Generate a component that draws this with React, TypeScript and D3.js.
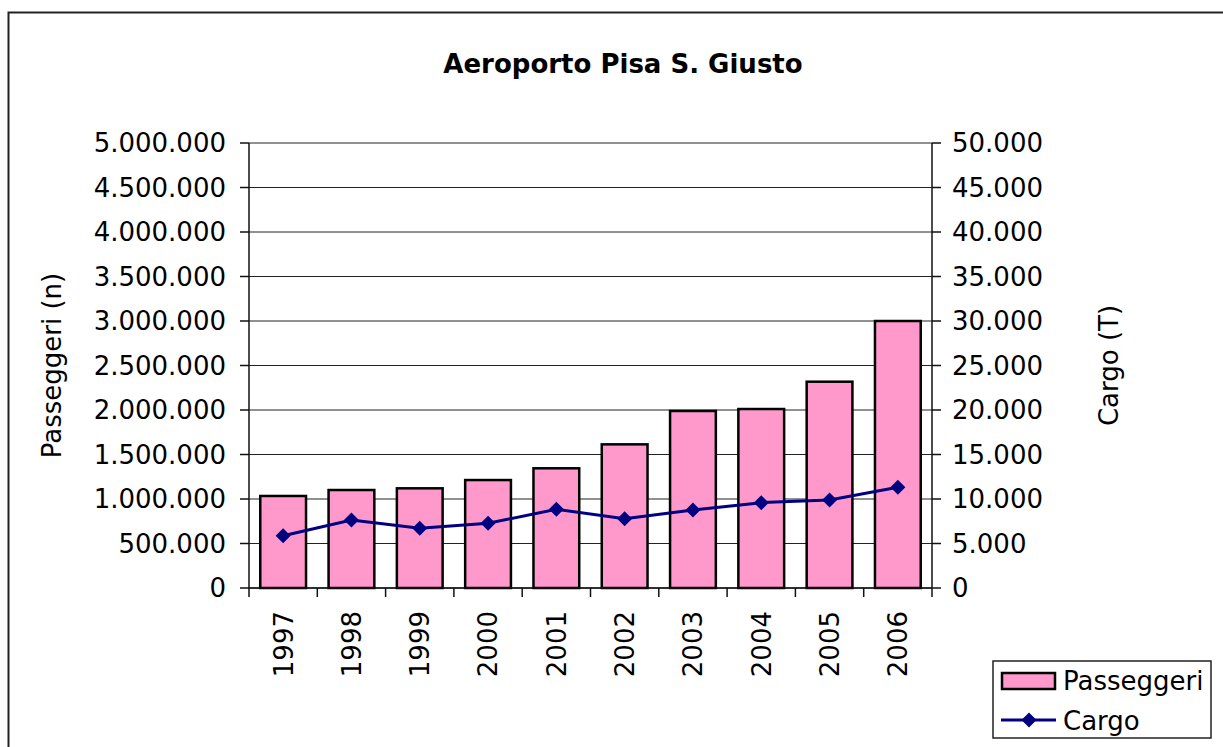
import React from 'react'
import * as d3 from 'd3'

const years = ['1997', '1998', '1999', '2000', '2001', '2002', '2003', '2004', '2005', '2006']
const passeggeri = [1034000, 1101000, 1120000, 1213000, 1345000, 1614000, 1989000, 2011000, 2318000, 3000000]
const cargo = [5880, 7640, 6710, 7270, 8840, 7790, 8760, 9590, 9890, 11310]
const leftTicks = [0, 500000, 1000000, 1500000, 2000000, 2500000, 3000000, 3500000, 4000000, 4500000, 5000000]
const rightTicks = [0, 5000, 10000, 15000, 20000, 25000, 30000, 35000, 40000, 45000, 50000]

const W = 1223
const H = 747
const plot = { left: 249, right: 932, top: 143, bottom: 588 }
const font = '"DejaVu Sans", Verdana, sans-serif'
const pink = '#FF99CC'
const navy = '#000080'

// italian thousands separator
const fmt = d3.formatLocale({ decimal: ',', thousands: '.', grouping: [3], currency: ['€', ''] }).format(',d')

const diamond = (r: number) => `M0,${-r}L${r},0L0,${r}L${-r},0Z`

const App: React.FC = () => {
  const x = d3
    .scaleBand()
    .domain(years)
    .range([plot.left, plot.right])
    .paddingInner(0.33)
    .paddingOuter(0.165)
  const step = x.step()
  const yL = d3.scaleLinear().domain([0, 5000000]).range([plot.bottom, plot.top])
  const yR = d3.scaleLinear().domain([0, 50000]).range([plot.bottom, plot.top])

  const line = d3
    .line<number>()
    .x((d, i) => x(years[i])! + x.bandwidth() / 2)
    .y(d => yR(d))

  return (
    <svg
      width={W}
      height={H}
      style={{ position: 'absolute', left: 0, top: 0, background: '#fff' }}
      fontFamily={font}
    >
      <rect x={8.5} y={12.5} width={W + 20} height={H + 20} fill="#fff" stroke="#222" strokeWidth={2} />

      <text x={623} y={73} textAnchor="middle" fontSize={26} fontWeight="bold">
        Aeroporto Pisa S. Giusto
      </text>

      {/* gridlines */}
      {leftTicks.map(t => (
        <line key={'g' + t} x1={plot.left} x2={plot.right} y1={yL(t)} y2={yL(t)} stroke="#222" strokeWidth={1} />
      ))}

      {/* bars */}
      {passeggeri.map((v, i) => (
        <rect
          key={years[i]}
          x={x(years[i])}
          y={yL(v)}
          width={x.bandwidth()}
          height={yL(0) - yL(v)}
          fill={pink}
          stroke="#000"
          strokeWidth={2.5}
        />
      ))}

      {/* axes */}
      <line x1={plot.left} x2={plot.left} y1={plot.top} y2={plot.bottom} stroke="#111" strokeWidth={1.5} />
      <line x1={plot.right} x2={plot.right} y1={plot.top} y2={plot.bottom} stroke="#111" strokeWidth={1.5} />
      <line x1={plot.left} x2={plot.right} y1={plot.bottom} y2={plot.bottom} stroke="#111" strokeWidth={1.5} />

      {leftTicks.map(t => (
        <g key={'l' + t}>
          <line x1={plot.left - 9} x2={plot.left} y1={yL(t)} y2={yL(t)} stroke="#111" strokeWidth={1.5} />
          <text x={226} y={yL(t)} dy="0.36em" textAnchor="end" fontSize={26}>
            {fmt(t)}
          </text>
        </g>
      ))}
      {rightTicks.map(t => (
        <g key={'r' + t}>
          <line x1={plot.right} x2={plot.right + 9} y1={yR(t)} y2={yR(t)} stroke="#111" strokeWidth={1.5} />
          <text x={952} y={yR(t)} dy="0.36em" textAnchor="start" fontSize={26}>
            {fmt(t)}
          </text>
        </g>
      ))}
      {d3.range(years.length + 1).map(i => (
        <line
          key={'xt' + i}
          x1={plot.left + i * step}
          x2={plot.left + i * step}
          y1={plot.bottom}
          y2={plot.bottom + 9}
          stroke="#111"
          strokeWidth={1.5}
        />
      ))}
      {years.map(yr => {
        const cx = x(yr)! + x.bandwidth() / 2
        return (
          <text
            key={'yl' + yr}
            transform={`translate(${cx},611) rotate(-90)`}
            dy="0.36em"
            textAnchor="end"
            fontSize={26}
          >
            {yr}
          </text>
        )
      })}

      <text transform={`translate(52,${(plot.top + plot.bottom) / 2}) rotate(-90)`} dy="0.36em" textAnchor="middle" fontSize={26}>
        Passeggeri (n)
      </text>
      <text transform={`translate(1109,${(plot.top + plot.bottom) / 2}) rotate(-90)`} dy="0.36em" textAnchor="middle" fontSize={26}>
        Cargo (T)
      </text>

      {/* cargo line */}
      <path d={line(cargo) ?? ''} fill="none" stroke={navy} strokeWidth={3} />
      {cargo.map((v, i) => (
        <path
          key={'m' + i}
          d={diamond(7.5)}
          transform={`translate(${x(years[i])! + x.bandwidth() / 2},${yR(v)})`}
          fill={navy}
        />
      ))}

      {/* legend */}
      <rect x={993} y={661} width={218} height={77} fill="#fff" stroke="#222" strokeWidth={1.5} />
      <rect x={1002} y={673} width={53} height={16} fill={pink} stroke="#000" strokeWidth={2.5} />
      <text x={1063} y={690} fontSize={26}>
        Passeggeri
      </text>
      <line x1={1001} x2={1056} y1={720} y2={720} stroke={navy} strokeWidth={3} />
      <path d={diamond(7.5)} transform="translate(1029,720)" fill={navy} />
      <text x={1063} y={730} fontSize={26}>
        Cargo
      </text>
    </svg>
  )
}

export default App
